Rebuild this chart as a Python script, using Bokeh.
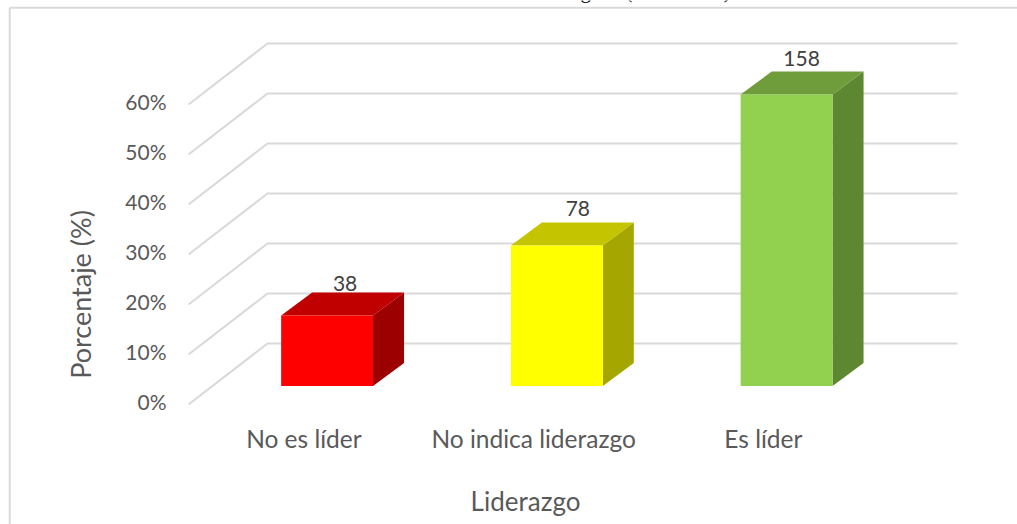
from bokeh.plotting import figure
from bokeh.models import Range1d
from bokeh.core.properties import value
from bokeh.embed import file_html
from bokeh.resources import INLINE

categories = ["No es líder", "No indica liderazgo", "Es líder"]
percentages = [14.1, 28.1, 58.3]
counts = [38, 78, 158]
tick_values = [0, 10, 20, 30, 40, 50, 60]
tick_labels = ["0%", "10%", "20%", "30%", "40%", "50%", "60%"]
front_colors = ["#FF0000", "#FFFF00", "#92D050"]
top_colors = ["#C00000", "#C4C400", "#6F9D3C"]
side_colors = ["#9C0000", "#A6A600", "#5E8732"]

W, H = 1017, 524
UX, X0 = 229.75, 326.6     # px per category, px of the first category
UY, Y0 = 5.0, 385.5        # px per percent, px of 0%

def xu(px):
    return (px - X0) / UX

def yu(px):
    return (Y0 - px) / UY

p = figure(width=W, height=H, output_backend="svg", toolbar_location=None,
           x_range=Range1d(xu(0), xu(W)), y_range=Range1d(yu(H), yu(0)),
           min_border=0, min_border_left=0, min_border_right=0,
           min_border_top=0, min_border_bottom=0,
           x_axis_location=None, y_axis_location=None,
           outline_line_color=None, background_fill_color="white",
           styles={"position": "absolute", "top": "0px", "left": "0px"})
p.grid.visible = False

GRID = "#D9D9D9"
TEXT = "#595959"
LABEL = "#404040"

# chart area border (continues past the picture on the right and at the bottom)
p.line([xu(9.2), xu(9.2)], [yu(H), yu(7.3)], line_color=GRID, line_width=2)
p.line([xu(9.2), xu(W)], [yu(7.3), yu(7.3)], line_color=GRID, line_width=2)

# walls of the 3D box
BACK_DY, FRONT_DY = 8.5, -3.7
x_front, x_back, x_right = xu(188), xu(267), xu(957)
for v in tick_values:
    p.line([x_front, x_back, x_right],
           [v + FRONT_DY, v + BACK_DY, v + BACK_DY],
           line_color=GRID, line_width=2, line_join="miter")

# bars
BAR_W = 0.4
DEPTH_X, DEPTH_Y = 31 / UX, 23 / UY
for i, pct in enumerate(percentages):
    l, r = i - BAR_W / 2, i + BAR_W / 2
    p.patch([r, r + DEPTH_X, r + DEPTH_X, r], [0, DEPTH_Y, pct + DEPTH_Y, pct],
            fill_color=side_colors[i], line_color=None)
    p.patch([l, r, r + DEPTH_X, l + DEPTH_X], [pct, pct, pct + DEPTH_Y, pct + DEPTH_Y],
            fill_color=top_colors[i], line_color=None)
    p.quad(left=l, right=r, bottom=0, top=pct, fill_color=front_colors[i], line_color=None)

font = value("Lato")
# value labels
label_dx = [18 / UX, 21 / UX, 15 / UX]
label_dy = [0.7, 1.7, 1.6]
p.text([i + label_dx[i] for i in range(3)],
       [percentages[i] + DEPTH_Y + label_dy[i] for i in range(3)],
       text=[str(c) for c in counts], text_font=font, text_font_size="21px",
       text_color=LABEL, text_align="center", text_baseline="bottom", y_offset=2)

# value axis labels
p.text([xu(166)] * len(tick_values), [v + yu(401) for v in tick_values], text=tick_labels,
       text_font=font, text_font_size="21px", text_color=TEXT,
       text_align="right", text_baseline="middle")

# category labels
p.text([i + xu(303.4) for i in range(3)], [yu(438)] * 3, text=categories,
       text_font=font, text_font_size="24.5px", text_color=TEXT,
       text_align="center", text_baseline="middle")

# axis titles
p.text([xu(525)], [yu(500)], text=["Liderazgo"], text_font=font, text_font_size="26px",
       text_color=TEXT, text_align="center", text_baseline="middle")
p.text([xu(80)], [yu(294)], text=["Porcentaje (%)"], text_font=font, text_font_size="27px",
       text_color=TEXT, text_align="center", text_baseline="middle", angle=1.5708)

# caption above the chart, cut off by the top of the picture
p.text([xu(601)], [yu(-10)], text=["Liderazgo"], text_font=value("Liberation Serif"),
       text_font_size="21px", text_color="black", text_align="right", text_baseline="alphabetic")
p.text([xu(625)], [yu(-10)], text=["(total = 274)"], text_font=value("Liberation Serif"),
       text_font_size="21px", text_color="black", text_align="left", text_baseline="alphabetic")

open("out.html", "w").write(file_html(p, INLINE))
